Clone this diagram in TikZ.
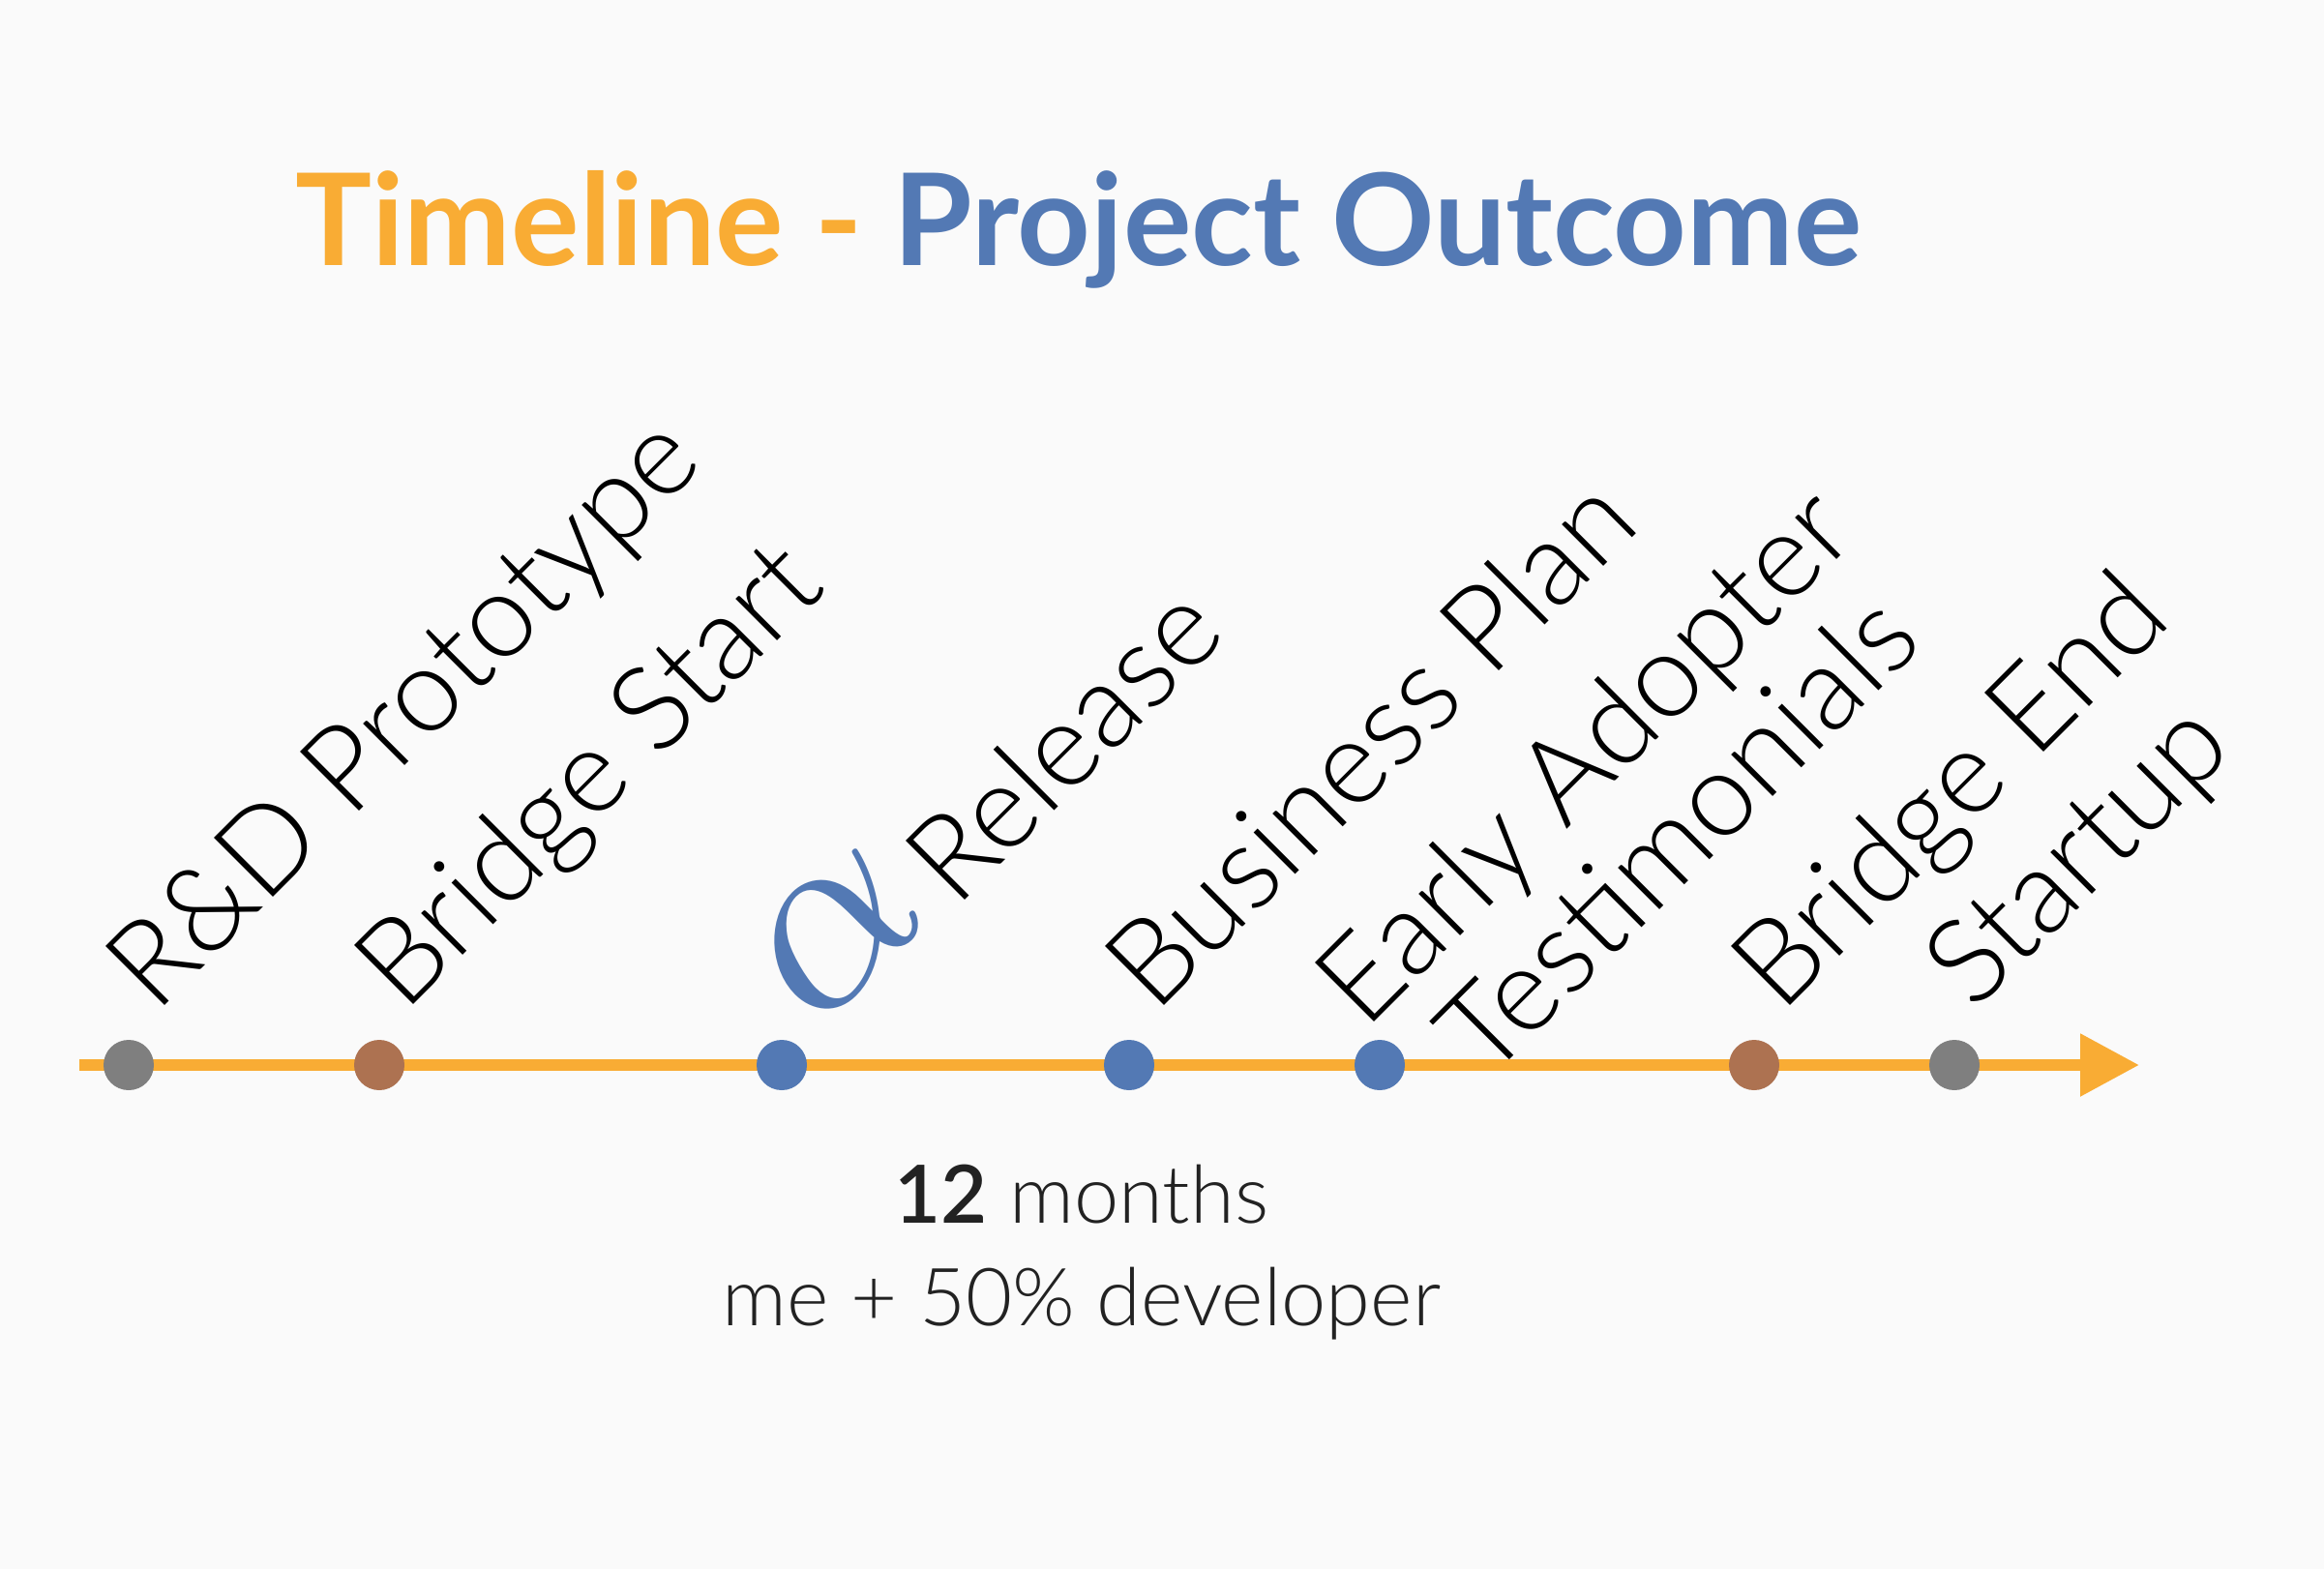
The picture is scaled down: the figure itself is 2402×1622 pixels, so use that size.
\documentclass[tikz,border=0pt]{standalone}
\usepackage{fontspec}
\usepackage{graphicx}
\setmainfont{Lato}
\newfontfamily\latolight{Lato Light}
\usetikzlibrary{arrows.meta}

\definecolor{bgcol}{HTML}{FAFAFA}
\definecolor{tlorange}{HTML}{F9AC34}
\definecolor{tlblue}{HTML}{5379B4}
\definecolor{tlbrown}{HTML}{AD7251}
\definecolor{tlgray}{HTML}{7F7F7F}
\definecolor{txtdark}{HTML}{222222}

\tikzset{
  milestone/.style={circle, inner sep=0pt, minimum size=52pt, draw=none},
  lbl/.style={rotate=45, anchor=base west, inner sep=0pt, text=black,
    font=\latolight\fontsize{122}{122}\selectfont},
  title/.style={anchor=base, inner sep=0pt, font=\bfseries\fontsize{132}{132}\selectfont},
  note/.style={anchor=base, inner sep=0pt, text=txtdark,
    font=\latolight\fontsize{83}{83}\selectfont},
}

\begin{document}
\begin{tikzpicture}[x=1pt, y=-1pt]
  % canvas
  \fill[bgcol] (0,0) rectangle (2402,1622);
  \useasboundingbox (0,0) rectangle (2402,1622);

  % heading
  \node[title] (heading) at (1115,274)
    {\textcolor{tlorange}{Timeline -} \textcolor{tlblue}{Project Outcome}};

  % time axis
  \coordinate (axis-start) at (82,1101);
  \coordinate (axis-end) at (2211,1101);
  \draw[tlorange, line width=12pt, -{Triangle[length=61pt, width=62pt]}]
    (axis-start) -- (axis-end);

  % milestones
  \node[milestone, fill=tlgray]  (m1) at (133,1101) {};
  \node[milestone, fill=tlbrown] (m2) at (392,1101) {};
  \node[milestone, fill=tlblue]  (m3) at (808,1101) {};
  \node[milestone, fill=tlblue]  (m4) at (1167,1101) {};
  \node[milestone, fill=tlblue]  (m5) at (1426,1101) {};
  \node[milestone, fill=tlbrown] (m6) at (1813,1101) {};
  \node[milestone, fill=tlgray]  (m7) at (2020,1101) {};

  % milestone labels
  \node[lbl] (l1) at (161,1049) {R\&D Prototype};
  \node[lbl] (l2) at (418,1048) {Bridge Start};
  \node[lbl, text=tlblue] (l3a) at (844,1067)
    {\scalebox{27}{\normalsize$\alpha$}};
  \node[lbl] (l3) at (988,940) {Release};
  \node[lbl] (l4) at (1194,1049) {Business Plan};
  \node[lbl] (l5) at (1411,1066) {Early Adopter};
  \node[lbl] (l5b) at (1537,1119) {Testimonials};
  \node[lbl] (l6) at (1841,1049) {Bridge End};
  \node[lbl] (l7) at (2040,1047) {Startup};

  % duration note
  \node[note] (dur) at (1118,1264) {{\bfseries 12} months};
  \node[note] (team) at (1118,1370) {me + 50\% developer};
\end{tikzpicture}
\end{document}
